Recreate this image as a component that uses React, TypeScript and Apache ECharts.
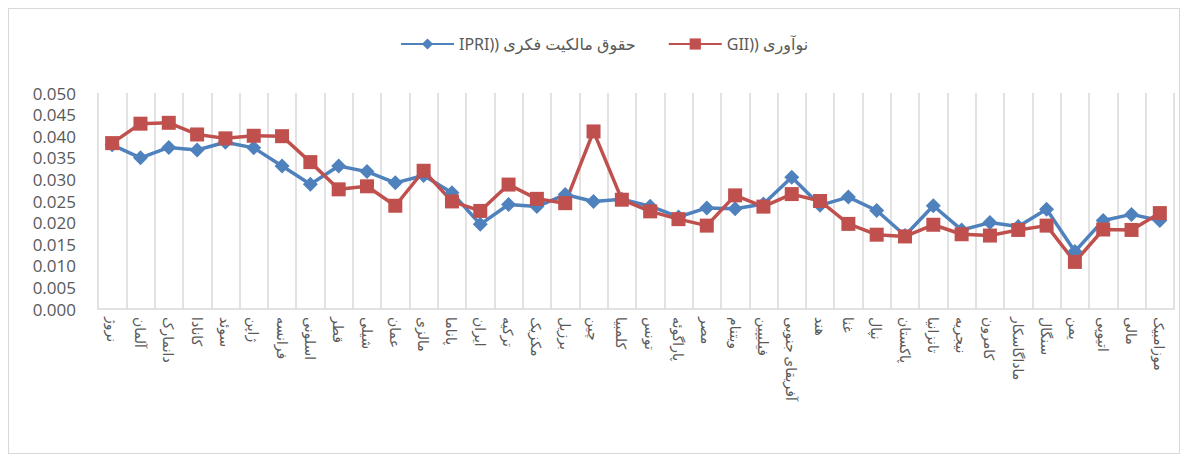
import React, { useEffect, useRef } from "react";
import * as echarts from "echarts";

const categories = [
  "نروژ", "آلمان", "دانمارک", "کانادا", "سوئد", "ژاپن", "فرانسه", "اسلونی", "قطر", "شیلی",
  "عمان", "مالزی", "پاناما", "ایران", "ترکیه", "مکزیک", "برزیل", "چین", "کلمبیا", "تونس",
  "پاراگوئه", "مصر", "ویتنام", "فیلیپین", "آفریقای جنوبی", "هند", "غنا", "نپال", "پاکستان", "تانزانیا",
  "نیجریه", "کامرون", "ماداگاسکار", "سنگال", "یمن", "اتیوپی", "مالی", "موزامبیک",
];

const ipri = [
  0.0380, 0.0350, 0.0374, 0.0368, 0.0386, 0.0373, 0.0331, 0.0289, 0.0331, 0.0318,
  0.0292, 0.0309, 0.0269, 0.0196, 0.0242, 0.0237, 0.0265, 0.0249, 0.0254, 0.0238,
  0.0213, 0.0234, 0.0232, 0.0243, 0.0305, 0.0240, 0.0259, 0.0228, 0.0170, 0.0239,
  0.0183, 0.0200, 0.0191, 0.0231, 0.0133, 0.0205, 0.0219, 0.0205,
];

const gii = [
  0.0384, 0.0429, 0.0431, 0.0404, 0.0395, 0.0401, 0.0400, 0.0340, 0.0277, 0.0284,
  0.0239, 0.0320, 0.0249, 0.0227, 0.0288, 0.0255, 0.0245, 0.0411, 0.0253, 0.0226,
  0.0208, 0.0193, 0.0263, 0.0237, 0.0266, 0.0250, 0.0197, 0.0172, 0.0168, 0.0195,
  0.0173, 0.0170, 0.0183, 0.0193, 0.0109, 0.0184, 0.0183, 0.0222,
];

const yTicks = { min: 0, max: 0.05, interval: 0.005 };

const seriesNames = ["IPRI)) حقوق مالکیت فکری", "GII)) نوآوری"];

export default function App() {
  const ref = useRef<HTMLDivElement>(null);
  useEffect(() => {
    if (!ref.current) return;
    const chart = echarts.init(ref.current, undefined, { renderer: "svg" });
    const font = "'Noto Sans', 'DejaVu Sans', sans-serif";
    chart.setOption({
      animation: false,
      textStyle: { fontFamily: font },
      legend: {
        left: 386,
        top: 22,
        itemWidth: 53,
        itemHeight: 14,
        itemGap: 32,
        textStyle: { fontSize: 16, color: "#595959", fontFamily: font },
        data: seriesNames,
      },
      grid: { left: 89, right: 5, top: 84, bottom: 144, containLabel: false },
      xAxis: {
        type: "category",
        data: categories,
        boundaryGap: true,
        axisLine: { lineStyle: { color: "#d9d9d9", width: 1.5 } },
        axisTick: { show: false },
        splitLine: { show: true, lineStyle: { color: "#d9d9d9", width: 1.5 } },
        axisLabel: {
          rotate: -90,
          interval: 0,
          margin: 8,
          fontSize: 14,
          color: "#595959",
          fontFamily: font,
        },
      },
      yAxis: {
        type: "value",
        min: yTicks.min,
        max: yTicks.max,
        interval: yTicks.interval,
        axisLine: { show: false },
        axisTick: { show: false },
        splitLine: { show: false },
        axisLabel: {
          fontSize: 17,
          lineHeight: 17,
          color: "#595959",
          margin: 22,
          fontFamily: "'Open Sans', 'Noto Sans', sans-serif",
          formatter: (v: number) => v.toFixed(3),
        },
      },
      series: [
        {
          name: seriesNames[0],
          type: "line",
          data: ipri,
          symbol: "diamond",
          symbolSize: 15,
          lineStyle: { color: "#4f81bd", width: 3.5 },
          itemStyle: { color: "#4f81bd" },
        },
        {
          name: seriesNames[1],
          type: "line",
          data: gii,
          symbol: "rect",
          symbolSize: 14,
          lineStyle: { color: "#c0504d", width: 3.5 },
          itemStyle: { color: "#c0504d" },
        },
      ],
    });
    return () => chart.dispose();
  }, []);
  return (
    <div
      style={{
        width: 1172,
        height: 446,
        border: "1px solid #d9d9d9",
        boxSizing: "border-box",
      }}
    >
      <div ref={ref} style={{ width: 1170, height: 444 }} />
    </div>
  );
}
